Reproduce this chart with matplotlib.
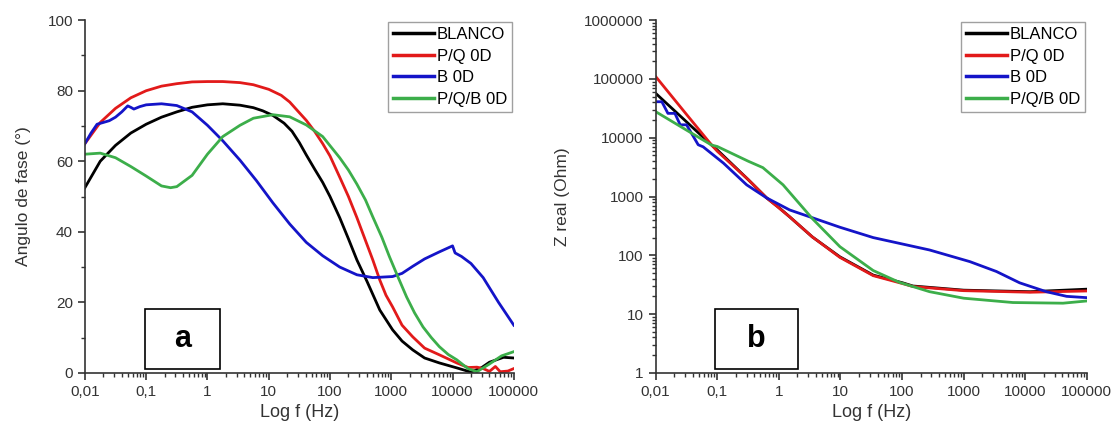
import numpy as np
import matplotlib.pyplot as plt
from matplotlib.ticker import FixedLocator, LogLocator, NullFormatter, FuncFormatter

plt.rcParams['font.family'] = ['Liberation Sans', 'DejaVu Sans']

# ---- panel a: phase angle ----
f_blanco_a = [0.01, 0.0178, 0.0316, 0.0562, 0.1, 0.178, 0.316, 0.562, 1, 1.78, 3.4, 5.6, 8,
              11.7, 17.8, 24, 31.6, 41, 56, 76, 100, 144, 200, 275, 400, 650, 1050, 1500, 2240,
              3500, 6100, 11700, 20000, 30000, 40000, 68000, 100000]
blanco_a = [52.5, 60, 64.5, 68, 70.5, 72.5, 74, 75.3, 76, 76.3, 75.9, 75.2, 74.3,
            73, 70.8, 68.5, 65.3, 61.8, 57.8, 54, 50, 44, 38, 32, 26, 17.8, 12.2, 9, 6.5,
            4.2, 2.8, 1.4, 0.2, 1.5, 3, 4.4, 4.2]

f_pq_a = [0.01, 0.0178, 0.0316, 0.0562, 0.1, 0.178, 0.316, 0.562, 1, 1.78, 3.4, 5.62, 10,
          16, 22, 30, 41, 56, 76, 100, 144, 200, 275, 380, 500, 650, 820, 1050, 1500, 2240,
          3500, 6100, 11700, 18000, 25000, 31600, 40000, 50000, 60000, 80000, 100000]
pq_a = [65, 71, 75, 78, 80, 81.3, 82, 82.5, 82.6, 82.6, 82.3, 81.7, 80.4,
        78.7, 76.8, 74.2, 71.6, 68.5, 65, 61.5, 55.5, 50, 44, 37.5, 32, 26.3, 22, 18.7, 13.5, 10.2,
        7, 5.1, 2.8, 1.5, 1.6, 1.2, 0.4, 1.8, 0.3, 0.5, 1.2]

f_b_a = [0.01, 0.0126, 0.0158, 0.02, 0.025, 0.0316, 0.04, 0.05, 0.056, 0.063, 0.079, 0.1,
         0.178, 0.316, 0.562, 1, 1.78, 3.4, 6.3, 11.7, 22, 41, 76, 144, 275, 500,
         1050, 1500, 2240, 3500, 6100, 10000, 11000, 14000, 20000, 31600, 56200, 100000]
b_a = [65, 68, 70.5, 71, 71.5, 72.5, 74, 75.7, 75.3, 74.8, 75.5, 76,
       76.3, 75.8, 74, 70.2, 65.8, 60.3, 54.5, 48.2, 42.2, 37, 33.2, 30, 27.8, 27,
       27.3, 28.2, 30.2, 32.3, 34.3, 36, 34, 33, 31, 27, 20, 13.5]

f_pqb_a = [0.01, 0.0178, 0.0316, 0.0562, 0.1, 0.178, 0.25, 0.316, 0.562, 1, 1.78, 3.4, 5.62,
           11.7, 22, 41, 76, 144, 200, 275, 380, 500, 700, 930, 1300, 1780, 2400, 3300, 4500,
           6100, 8500, 11700, 17800, 25000, 40000, 63000, 100000]
pqb_a = [62, 62.3, 61, 58.5, 55.8, 53, 52.5, 52.8, 56, 62, 67, 70.2, 72.2,
         73.2, 72.6, 70.3, 67, 61, 57.5, 53.5, 49, 44.2, 38.5, 33, 27, 21.5, 17, 13, 10,
         7.4, 5.2, 3.7, 1.2, 0.3, 2.5, 4.8, 6]

# ---- panel b: Z real ----
f_blanco_b = [0.01, 0.0316, 0.081, 0.1, 0.316, 0.63, 1, 1.5, 3.5, 9.8, 34, 102, 150,
              1000, 12000, 100000]
blanco_b = [57000, 18700, 7500, 6200, 1950, 950, 650, 450, 205, 94, 46, 34, 30,
            25.5, 24, 26.5]

f_pq_b = [0.01, 0.0316, 0.081, 0.1, 0.316, 0.63, 1, 1.5, 3.5, 9.8, 34, 102, 150,
          1000, 12000, 100000]
pq_b = [110000, 25000, 7500, 5900, 1950, 950, 640, 450, 205, 92, 45, 33, 29.4,
        25, 23.5, 24.7]

f_b_b = [0.01, 0.0126, 0.0158, 0.0205, 0.025, 0.0317, 0.049, 0.059, 0.126, 0.3, 0.63, 1.5,
         3.5, 9.8, 34, 280, 1260, 3400, 8100, 22000, 47000, 100000]
b_b = [41000, 41000, 26000, 26000, 16600, 16600, 7600, 7000, 3700, 1580, 950, 590,
       435, 300, 200, 123, 78, 53, 34, 24, 20, 19]

f_pqb_b = [0.01, 0.0316, 0.081, 0.1, 0.316, 0.55, 1.17, 3.5, 9.8, 34, 91, 280, 1000,
           6300, 41000, 100000]
pqb_b = [27800, 13500, 7500, 7100, 4000, 3100, 1580, 420, 140, 55, 34.5, 24, 18.6,
         15.7, 15.3, 16.7]

labels = ['BLANCO', 'P/Q 0D', 'B 0D', 'P/Q/B 0D']
colors = ['#000000', '#e21a1a', '#1414c8', '#3cae4a']
xticks = [0.01, 0.1, 1, 10, 100, 1000, 10000, 100000]
xticklabels = ['0,01', '0,1', '1', '10', '100', '1000', '10000', '100000']

fig = plt.figure(figsize=(11.17, 4.3), dpi=100)
ax1 = fig.add_axes([0.076, 0.133, 0.384, 0.82])
ax2 = fig.add_axes([0.587, 0.133, 0.386, 0.82])


def style(ax):
    ax.set_xscale('log')
    ax.set_xlim(0.01, 100000)
    ax.set_xticks(xticks)
    ax.set_xticklabels(xticklabels)
    ax.xaxis.set_minor_locator(LogLocator(base=10, subs=np.arange(2, 10), numticks=20))
    ax.xaxis.set_minor_formatter(NullFormatter())
    for s in ['top', 'right']:
        ax.spines[s].set_visible(False)
    for s in ['left', 'bottom']:
        ax.spines[s].set_color('#333333')
        ax.spines[s].set_linewidth(1.2)
    ax.tick_params(which='major', length=5, width=1.2, color='#333333', labelsize=11, labelcolor='#333333')
    ax.tick_params(which='minor', length=3, width=1, color='#333333')
    ax.set_xlabel('Log f (Hz)', fontsize=13, color='#333333')


series_a = [(f_blanco_a, blanco_a), (f_pq_a, pq_a), (f_b_a, b_a), (f_pqb_a, pqb_a)]
for (x, y), lab, c in zip(series_a, labels, colors):
    ax1.plot(x, y, color=c, lw=2, label=lab)
style(ax1)
ax1.set_ylim(0, 100)
ax1.set_yticks([0, 20, 40, 60, 80, 100])
ax1.yaxis.set_minor_locator(FixedLocator([10, 30, 50, 70, 90]))
ax1.set_ylabel('Angulo de fase (°)', fontsize=12.5, color='#333333', labelpad=12)

series_b = [(f_blanco_b, blanco_b), (f_pq_b, pq_b), (f_b_b, b_b), (f_pqb_b, pqb_b)]
for (x, y), lab, c in zip(series_b, labels, colors):
    ax2.plot(x, y, color=c, lw=2, label=lab)
style(ax2)
ax2.set_yscale('log')
ax2.set_ylim(1, 1e6)
ax2.set_yticks([1, 10, 100, 1000, 10000, 100000, 1000000])
ax2.yaxis.set_major_formatter(FuncFormatter(lambda v, p: '%d' % round(v)))
ax2.yaxis.set_minor_locator(LogLocator(base=10, subs=np.arange(2, 10), numticks=20))
ax2.yaxis.set_minor_formatter(NullFormatter())
ax2.set_ylabel('Z real (Ohm)', fontsize=12.5, color='#333333', labelpad=10)

for ax, txt, x0, w in [(ax1, 'a', 0.139, 0.176), (ax2, 'b', 0.138, 0.193)]:
    ax.text(x0 + w / 2, 0.095, txt, transform=ax.transAxes, ha='center', va='center',
            fontsize=22, fontweight='bold')
    ax.add_patch(plt.Rectangle((x0, 0.01), w, 0.17, transform=ax.transAxes,
                               fill=False, ec='black', lw=1.2, clip_on=False))

for ax in [ax1, ax2]:
    leg = ax.legend(loc='upper right', bbox_to_anchor=(1.0, 1.0), fontsize=12, frameon=True,
                    fancybox=False, edgecolor='#888888', handlelength=2.5, handletextpad=0.15,
                    labelspacing=0.4, borderpad=0.3, borderaxespad=0.1)
    leg.get_frame().set_linewidth(1)
    for ln in leg.get_lines():
        ln.set_linewidth(2.5)

fig.savefig('out.png', dpi=100)
